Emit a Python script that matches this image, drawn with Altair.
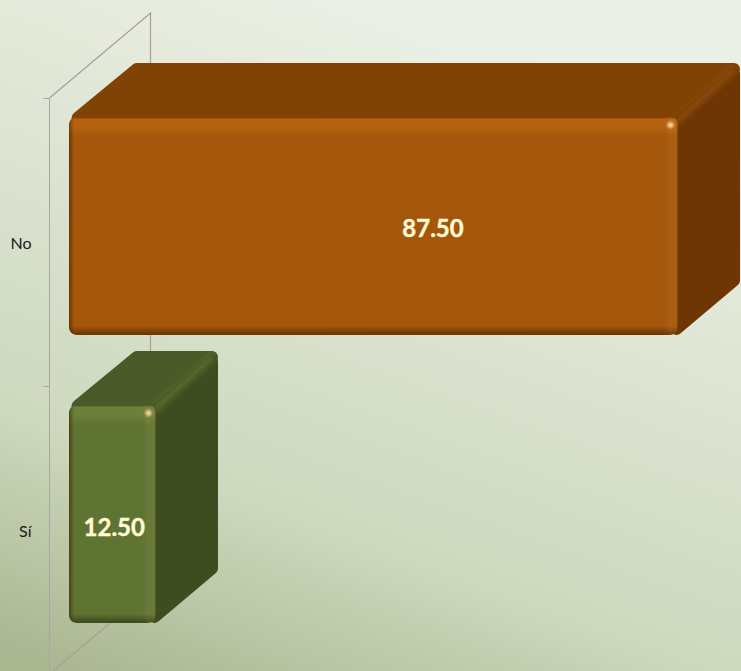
import altair as alt
import pandas as pd

# ---- chart values ----
categories = ["No", "Sí"]
values = [87.50, 12.50]
labels = ["87.50", "12.50"]
front_colors = ["#a4560a", "#5f7332"]
top_colors = ["#804205", "#4a5a28"]
side_colors = ["#6e3604", "#3e4c20"]
light_colors = ["#b5620f", "#6b8039"]
edge_colors = ["#6f3804", "#3f4e1c"]
ridge_colors = ["#94500c", "#5d7230"]

W, H = 741, 671
PX_X = 6.96    # pixels per value unit
PX_Y = 288.0   # pixels per category band
X0, Y0 = 69.0, 98.0

x_scale = alt.Scale(domain=[-X0 / PX_X, (W - X0) / PX_X], range=[0, W], nice=False, zero=False)
y_scale = alt.Scale(domain=[-Y0 / PX_Y, (H - Y0) / PX_Y], range=[0, H], nice=False, zero=False)
band_scale = alt.Scale(domain=categories, range=[98, 674], paddingInner=0, paddingOuter=0)

XQ = lambda f="x": alt.X(f"{f}:Q", scale=x_scale, axis=None)
YQ = lambda f="y": alt.Y(f"{f}:Q", scale=y_scale, axis=None)

DX, DY = 62.0 / PX_X, -54.0 / PX_Y
px = lambda v: v / PX_X
py = lambda v: v / PX_Y


def stops_of(stops):
    return [{"color": c, "offset": o} for o, c in stops]


def grad_v(stops):
    return {"gradient": "linear", "x1": 0, "y1": 0, "x2": 0, "y2": 1, "stops": stops_of(stops)}


def grad_h(stops):
    return {"gradient": "linear", "x1": 0, "y1": 0, "x2": 1, "y2": 0, "stops": stops_of(stops)}


# background panel
bg = alt.Chart(pd.DataFrame({"a": [0]})).mark_rect(
    fill={"gradient": "linear", "x1": 0.1, "y1": 1, "x2": 0.5, "y2": 0, "stops": stops_of([
        (0, "#abb791"), (0.31, "#ced9bf"), (0.5, "#d6dfca"), (0.83, "#e5eadb"), (1, "#ebf0e7")])}
).encode(x=alt.value(0), x2=alt.value(W), y=alt.value(0), y2=alt.value(H))

# walls of the 3-D frame
wx0 = (49.5 - X0) / PX_X
wdx, wdy = 101.0 / PX_X, -85.0 / PX_Y
wall = pd.DataFrame([
    {"s": "a", "o": 0, "x": wx0, "y": 0},
    {"s": "a", "o": 1, "x": wx0 + wdx, "y": wdy},
    {"s": "a", "o": 2, "x": wx0 + wdx, "y": 2 + wdy},
    {"s": "a", "o": 3, "x": wx0, "y": 2},
])
wall_layer = alt.Chart(wall).mark_line(stroke="#a0a0a0", strokeWidth=1.2, clip=True).encode(
    x=XQ(), y=YQ(), order="o:Q", detail="s:N")

# category axis
axis_layer = alt.Chart(pd.DataFrame({"c": categories})).mark_point(opacity=0).encode(
    y=alt.Y("c:N", scale=band_scale, title=None, axis=alt.Axis(
        orient="left", offset=-49, domainColor="#a6a6a6", tickColor="#a6a6a6", tickSize=6,
        tickBand="extent", labelPadding=12, labelOffset=1, labelFont="Lato", labelFontSize=16,
        labelColor="#1a1a1a", labelAngle=0, grid=False, domainWidth=1, tickWidth=1, zindex=1)))

layers = [bg, wall_layer, axis_layer]

for i, (c, v) in enumerate(zip(categories, values)):
    top = i + 19.0 / PX_Y
    bottom = i + 237.0 / PX_Y
    x1 = v
    top_face = pd.DataFrame({
        "o": [0, 1, 2, 3],
        "x": [px(8.5), DX + px(6), x1 + DX - px(6), x1],
        "y": [top + py(1), top + DY + py(6), top + DY + py(6), top + py(6)],
    })
    side_face = pd.DataFrame({
        "o": [0, 1, 2, 3],
        "x": [x1 + px(2.6), x1 + DX - px(6), x1 + DX - px(6), x1 - px(1.5)],
        "y": [top + py(3), top + DY + py(10.5), bottom + DY - py(0.5), bottom - py(6)],
    })
    ridge = pd.DataFrame({
        "o": [0, 1],
        "x": [x1 + px(1), x1 + DX - px(8)],
        "y": [top + py(2), top + DY + py(8)],
    })
    bar = pd.DataFrame({"x": [0.0], "x2": [x1], "y": [top], "y2": [bottom]})
    dot = pd.DataFrame({"x": [x1 - px(7.5)], "y": [top + py(8)]})

    layers.append(alt.Chart(top_face).mark_line(
        fill=top_colors[i], stroke=top_colors[i], strokeWidth=12, strokeJoin="round",
        interpolate="linear-closed").encode(x=XQ(), y=YQ(), order="o:Q"))
    layers.append(alt.Chart(side_face).mark_line(
        fill=side_colors[i], stroke=side_colors[i], strokeWidth=12, strokeJoin="round",
        interpolate="linear-closed").encode(x=XQ(), y=YQ(), order="o:Q"))
    for w, op in [(14, 0.22), (9, 0.3), (4, 0.4)]:
        layers.append(alt.Chart(ridge).mark_line(
            stroke=ridge_colors[i], strokeWidth=w, opacity=op, strokeCap="round").encode(
            x=XQ(), y=YQ(), order="o:Q"))

    # front face with bevelled edges
    frac = 1 / 218.0
    layers.append(alt.Chart(bar).mark_bar(
        cornerRadius=8,
        fill=grad_v([(0, edge_colors[i]), (2 * frac, light_colors[i]), (10 * frac, light_colors[i]),
                     (20 * frac, front_colors[i]), (1 - 9 * frac, front_colors[i]),
                     (1 - 1.5 * frac, edge_colors[i]), (1, edge_colors[i])]),
    ).encode(x=XQ(), x2="x2:Q", y=YQ(), y2="y2:Q"))
    wpx = v * PX_X
    layers.append(alt.Chart(bar).mark_bar(
        cornerRadius=8,
        fill=grad_h([(0, "rgba(60,35,0,0.6)"), (5 / wpx, "rgba(60,35,0,0)"),
                     (1 - 14 / wpx, "rgba(255,240,170,0)"), (1 - 7 / wpx, "rgba(255,240,170,0.07)"),
                     (1 - 4 / wpx, "rgba(255,240,170,0.04)"), (1, "rgba(50,25,0,0.35)")]),
    ).encode(x=XQ(), x2="x2:Q", y=YQ(), y2="y2:Q"))
    layers.append(alt.Chart(dot).mark_circle(
        size=90, opacity=1,
        fill={"gradient": "radial", "x1": 0.5, "y1": 0.5, "x2": 0.5, "y2": 0.5, "r1": 0, "r2": 0.5,
              "stops": stops_of([(0, "rgba(255,225,180,1)"), (0.35, "rgba(255,215,160,0.75)"),
                                 (1, "rgba(255,210,150,0)")])},
    ).encode(x=XQ(), y=YQ()))

# data labels
label_x = [52.3, 6.5]
label_y = [132.0 / PX_Y, 1 + 143.0 / PX_Y]
text_df = pd.DataFrame({"x": label_x, "y": label_y, "t": labels})
layers.append(alt.Chart(text_df).mark_text(
    font="Lato", fontWeight="bold", fontSize=24, color="#fffbd6", stroke="#fffbd6", strokeWidth=0.4,
    align="center", baseline="middle"
).encode(x=XQ(), y=YQ(), text="t:N"))

chart = alt.layer(*layers).resolve_scale(y="independent").properties(
    width=W, height=H, padding=0, autosize=alt.AutoSizeParams(type="none"),
).configure_view(stroke=None)

chart.save("out.html", embed_options={
    "renderer": "svg", "actions": False,
    "defaultStyle": "html,body{margin:0;padding:0;overflow:hidden}.vega-embed{display:block;line-height:0}",
})
